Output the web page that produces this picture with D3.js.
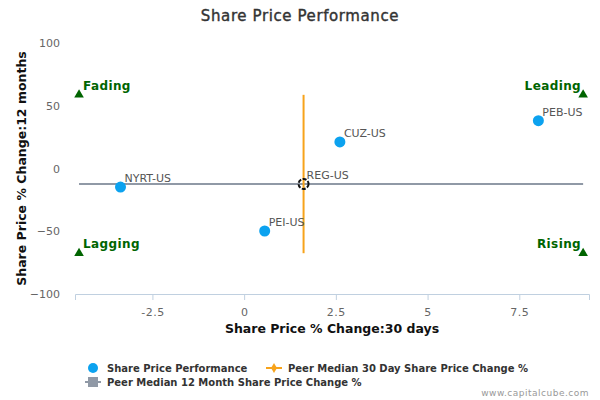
<!DOCTYPE html>
<html>
<head>
<meta charset="utf-8">
<script src="https://cdn.jsdelivr.net/npm/d3@7"></script>
<style>
  body { margin: 0; background: #fff; }
  text { font-family: "DejaVu Sans", sans-serif; }
</style>
</head>
<body>
<div id="chart"></div>
<script>
// Data
const tickers = ["NYRT-US", "PEI-US", "CUZ-US", "PEB-US"];
const change30d = [-3.37, 0.56, 2.61, 8.02];
const change12m = [-14.8, -49.8, 21.2, 38.1];

const subjectName = "REG-US";
const subject30d = 1.62;
const subject12m = -12.3;

const quadrantNames = ["Fading", "Leading", "Lagging", "Rising"];
const quadrantX = [-4.5, 9.24, -4.5, 9.24];
const quadrantY = [58.7, 58.7, -67.5, -67.5];

const xTicks = [-2.5, 0, 2.5, 5, 7.5];
const yTicks = [100, 50, 0, -50, -100];

const width = 600, height = 400;
const margin = { top: 43, right: 11, bottom: 106, left: 75 };

const svg = d3.select("#chart")
    .append("svg")
    .attr("width", width)
    .attr("height", height);

const x = d3.scaleLinear()
    .domain([-4.61, 9.4])
    .range([margin.left, width - margin.right]);

const y = d3.scaleLinear()
    .domain([-100, 100])
    .range([height - margin.bottom, margin.top]);

// Title
svg.append("text")
    .attr("x", 300)
    .attr("y", 21)
    .attr("text-anchor", "middle")
    .attr("font-size", 15)
    .attr("fill", "#333")
    .attr("stroke", "#333")
    .attr("stroke-width", 0.4)
    .attr("letter-spacing", 0.6)
    .text("Share Price Performance");

// X axis
const xAxis = svg.append("g")
    .attr("transform", `translate(0,${y(-100)})`)
    .call(d3.axisBottom(x).tickValues(xTicks).tickSize(6).tickPadding(8)
        .tickFormat(d => d));
xAxis.select(".domain").attr("stroke", "#c0d0e0");
xAxis.selectAll(".tick line").attr("stroke", "#c0d0e0");
xAxis.selectAll(".tick text").attr("fill", "#666").attr("font-size", 11)
    .attr("letter-spacing", 0.5);

// Y axis (labels only)
const yAxis = svg.append("g")
    .attr("transform", `translate(${margin.left},0)`)
    .call(d3.axisLeft(y).tickValues(yTicks).tickSize(0).tickPadding(15));
yAxis.select(".domain").remove();
yAxis.selectAll(".tick text").attr("fill", "#666").attr("font-size", 11);

// Axis titles
svg.append("text")
    .attr("x", (x.range()[0] + x.range()[1]) / 2)
    .attr("y", 333)
    .attr("text-anchor", "middle")
    .attr("font-size", 12.5)
    .attr("font-weight", "bold")
    .attr("fill", "#111")
    .text("Share Price % Change:30 days");

svg.append("text")
    .attr("transform", `translate(26,${y(0)}) rotate(-90)`)
    .attr("text-anchor", "middle")
    .attr("font-size", 12.5)
    .attr("font-weight", "bold")
    .attr("fill", "#111")
    .text("Share Price % Change:12 months");

// Peer median lines
svg.append("line")
    .attr("x1", x(quadrantX[0]))
    .attr("x2", x(quadrantX[1]))
    .attr("y1", y(subject12m))
    .attr("y2", y(subject12m))
    .attr("stroke", "#9099a6")
    .attr("stroke-width", 2);

svg.append("line")
    .attr("x1", x(subject30d))
    .attr("x2", x(subject30d))
    .attr("y1", y(quadrantY[0]))
    .attr("y2", y(quadrantY[2]))
    .attr("stroke", "#f7a31b")
    .attr("stroke-width", 2);

// Quadrant markers
const tri = d3.symbol().type(d3.symbolTriangle).size(40);
quadrantNames.forEach((name, i) => {
    const px = x(quadrantX[i]), py = y(quadrantY[i]);
    svg.append("path")
        .attr("d", tri)
        .attr("transform", `translate(${px},${py})`)
        .attr("fill", "#006400");
    const right = i % 2 === 1;
    svg.append("text")
        .attr("x", right ? px - 2 : px + 4)
        .attr("y", py - 5)
        .attr("text-anchor", right ? "end" : "start")
        .attr("font-size", 12)
        .attr("font-weight", "bold")
        .attr("fill", "#006400")
        .attr("letter-spacing", 0.4)
        .text(name);
});

// Peer points
tickers.forEach((t, i) => {
    const px = x(change30d[i]), py = y(change12m[i]);
    svg.append("circle")
        .attr("cx", px)
        .attr("cy", py)
        .attr("r", 5.5)
        .attr("fill", "#0ca2ef");
    svg.append("text")
        .attr("x", px + 4)
        .attr("y", py - 5)
        .attr("font-size", 11)
        .attr("fill", "#555")
        .text(t);
});

// Subject company
svg.append("circle")
    .attr("cx", x(subject30d))
    .attr("cy", y(subject12m))
    .attr("r", 5)
    .attr("fill", "none")
    .attr("stroke", "#111")
    .attr("stroke-width", 2)
    .attr("stroke-dasharray", "4,1.5");
svg.append("text")
    .attr("x", x(subject30d) + 3)
    .attr("y", y(subject12m) - 5)
    .attr("font-size", 11)
    .attr("fill", "#555")
    .text(subjectName);

// Legend
const legend = svg.append("g").attr("font-size", 10).attr("font-weight", "bold").attr("fill", "#333");
legend.append("circle").attr("cx", 93).attr("cy", 368).attr("r", 5).attr("fill", "#0ca2ef");
legend.append("text").attr("x", 107).attr("y", 372).text("Share Price Performance");

legend.append("line").attr("x1", 266).attr("x2", 282).attr("y1", 368).attr("y2", 368)
    .attr("stroke", "#f7a31b").attr("stroke-width", 2);
legend.append("path").attr("d", d3.symbol().type(d3.symbolDiamond).size(30))
    .attr("transform", "translate(274,368)").attr("fill", "#f7a31b");
legend.append("text").attr("x", 288).attr("y", 372).text("Peer Median 30 Day Share Price Change %");

legend.append("line").attr("x1", 85).attr("x2", 101).attr("y1", 382).attr("y2", 382)
    .attr("stroke", "#9099a6").attr("stroke-width", 2);
legend.append("rect").attr("x", 88).attr("y", 377).attr("width", 10).attr("height", 10)
    .attr("fill", "#9099a6");
legend.append("text").attr("x", 107).attr("y", 386).text("Peer Median 12 Month Share Price Change %");

// Credit
svg.append("text")
    .attr("x", 589)
    .attr("y", 396)
    .attr("text-anchor", "end")
    .attr("font-size", 9)
    .attr("fill", "#999")
    .attr("letter-spacing", 0.5)
    .text("www.capitalcube.com");
</script>
</body>
</html>
